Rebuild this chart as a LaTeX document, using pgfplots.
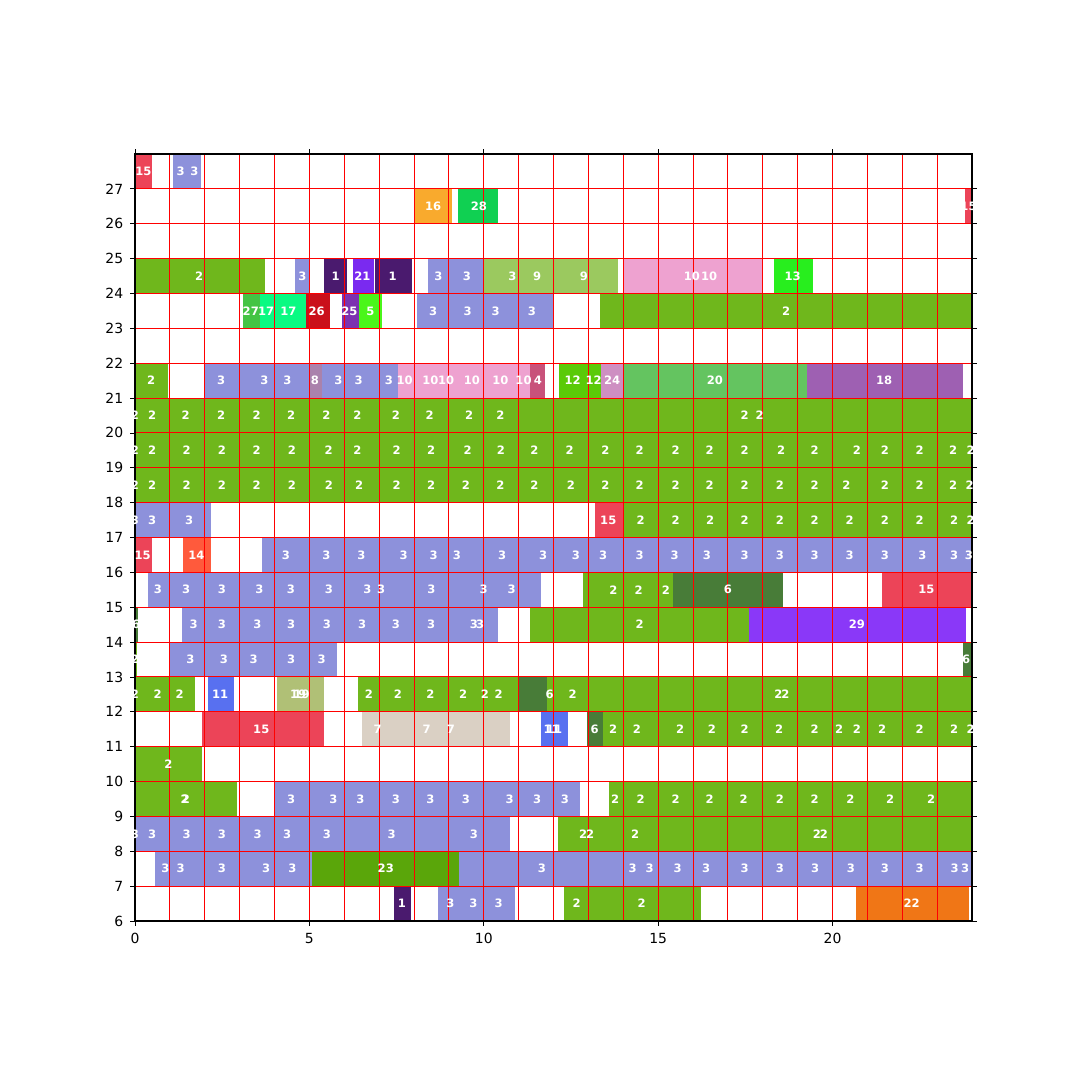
\documentclass[border=0pt]{standalone}
\usepackage{pgfplots}
\pgfplotsset{compat=1.18}
\usepackage{fontspec}
\setmainfont{DejaVu Sans}
\definecolor{red15}{RGB}{236,68,88}
\definecolor{lav}{RGB}{141,145,219}
\definecolor{or16}{RGB}{249,170,45}
\definecolor{gr28}{RGB}{16,208,82}
\definecolor{g2}{RGB}{111,183,28}
\definecolor{dp1}{RGB}{74,26,110}
\definecolor{p21}{RGB}{122,42,240}
\definecolor{lg9}{RGB}{155,201,95}
\definecolor{pink10}{RGB}{238,162,208}
\definecolor{bg13}{RGB}{40,238,30}
\definecolor{g27}{RGB}{68,196,68}
\definecolor{m17}{RGB}{10,250,130}
\definecolor{r26}{RGB}{202,16,26}
\definecolor{p25}{RGB}{124,50,176}
\definecolor{g5}{RGB}{74,246,26}
\definecolor{mv8}{RGB}{170,130,172}
\definecolor{r4}{RGB}{200,82,122}
\definecolor{g12}{RGB}{90,202,8}
\definecolor{pk24}{RGB}{206,143,194}
\definecolor{g20}{RGB}{100,196,96}
\definecolor{p18}{RGB}{158,96,178}
\definecolor{o14}{RGB}{255,90,60}
\definecolor{dg6}{RGB}{72,124,56}
\definecolor{p29}{RGB}{138,56,248}
\definecolor{b11}{RGB}{88,112,240}
\definecolor{k19}{RGB}{176,192,118}
\definecolor{be7}{RGB}{218,208,196}
\definecolor{g23}{RGB}{90,166,10}
\definecolor{o22}{RGB}{240,118,22}
\newcommand\bx[5]{%
  \addplot[fill=#5,draw=none,forget plot] coordinates {(#1,#3) (#2,#3) (#2,#4) (#1,#4)};}
\begin{document}
\begin{tikzpicture}
\path[use as bounding box] (0,0) rectangle (540bp,540bp);
\begin{axis}[
  at={(67.5bp,79.5bp)}, anchor=south west,
  width=418.5bp, height=383.5bp, scale only axis,
  xmin=0, xmax=24, ymin=6, ymax=28,
  xtick={0,5,10,15,20}, minor xtick={0,...,24},
  ytick={6,...,27}, minor ytick={6,...,28},
  grid=both,
  major grid style={red, line width=0.5bp},
  minor grid style={red, line width=0.5bp},
  minor tick length=0pt, major tick length=2.4bp,
  tick align=outside, tick style={black, line width=0.4bp},
  axis line style={black, line width=0.55bp},
  ticklabel style={font=\fontsize{7}{8}\selectfont},
  /pgf/number format/assume math mode=true,
  axis on top,
]
% row 27
\bx{0}{0.48}{27}{28}{red15}
\bx{1.08}{1.90}{27}{28}{lav}
% row 26
\bx{8.0}{9.1}{26}{27}{or16}
\bx{9.27}{10.42}{26}{27}{gr28}
\bx{23.79}{24}{26}{27}{red15}
% row 24
\bx{0}{3.72}{24}{25}{g2}
\bx{4.6}{4.99}{24}{25}{lav}
\bx{5.41}{6.09}{24}{25}{dp1}
\bx{6.24}{6.85}{24}{25}{p21}
\bx{6.89}{7.93}{24}{25}{dp1}
\bx{8.39}{10.0}{24}{25}{lav}
\bx{10.0}{13.86}{24}{25}{lg9}
\bx{13.99}{18.0}{24}{25}{pink10}
\bx{18.31}{19.43}{24}{25}{bg13}
% row 23
\bx{3.09}{3.57}{23}{24}{g27}
\bx{3.57}{4.9}{23}{24}{m17}
\bx{4.9}{5.58}{23}{24}{r26}
\bx{5.94}{6.41}{23}{24}{p25}
\bx{6.41}{7.09}{23}{24}{g5}
\bx{8.08}{12.02}{23}{24}{lav}
\bx{13.32}{24}{23}{24}{g2}
% row 21
\bx{0}{0.96}{21}{22}{g2}
\bx{2.01}{7.53}{21}{22}{lav}
\bx{4.99}{5.36}{21}{22}{mv8}
\bx{7.53}{11.34}{21}{22}{pink10}
\bx{11.34}{11.76}{21}{22}{r4}
\bx{12.15}{13.35}{21}{22}{g12}
\bx{13.35}{14.0}{21}{22}{pk24}
\bx{14.0}{19.26}{21}{22}{g20}
\bx{19.26}{23.74}{21}{22}{p18}
% rows 20,19,18
\bx{0}{24}{20}{21}{g2}
\bx{0}{24}{19}{20}{g2}
\bx{0}{24}{18}{19}{g2}
% row 17
\bx{0}{2.19}{17}{18}{lav}
\bx{13.2}{14.0}{17}{18}{red15}
\bx{14.0}{24}{17}{18}{g2}
% row 16
\bx{0}{0.48}{16}{17}{red15}
\bx{1.38}{2.19}{16}{17}{o14}
\bx{3.63}{24}{16}{17}{lav}
% row 15
\bx{0.36}{11.64}{15}{16}{lav}
\bx{12.86}{15.44}{15}{16}{g2}
\bx{15.44}{18.58}{15}{16}{dg6}
\bx{21.41}{24}{15}{16}{red15}
% row 14
\bx{0}{0.09}{14}{15}{dg6}
\bx{1.36}{10.42}{14}{15}{lav}
\bx{11.34}{17.6}{14}{15}{g2}
\bx{17.6}{23.83}{14}{15}{p29}
% row 13
\bx{0}{0.06}{13}{14}{g2}
\bx{1.0}{5.78}{13}{14}{lav}
\bx{23.74}{24}{13}{14}{dg6}
% row 12
\bx{0}{1.72}{12}{13}{g2}
\bx{2.09}{2.83}{12}{13}{b11}
\bx{4.06}{5.43}{12}{13}{k19}
\bx{6.38}{11.02}{12}{13}{g2}
\bx{11.02}{11.81}{12}{13}{dg6}
\bx{11.81}{24}{12}{13}{g2}
% row 11
\bx{1.92}{5.41}{11}{12}{red15}
\bx{6.52}{10.74}{11}{12}{be7}
\bx{11.64}{12.41}{11}{12}{b11}
\bx{12.95}{13.42}{11}{12}{dg6}
\bx{13.42}{24}{11}{12}{g2}
% row 10
\bx{0}{1.92}{10}{11}{g2}
% row 9
\bx{0}{2.92}{9}{10}{g2}
\bx{4.02}{12.77}{9}{10}{lav}
\bx{13.59}{24}{9}{10}{g2}
% row 8
\bx{0}{10.74}{8}{9}{lav}
\bx{12.12}{24}{8}{9}{g2}
% row 7
\bx{0.56}{24}{7}{8}{lav}
\bx{5.07}{9.29}{7}{8}{g23}
% row 6
\bx{7.42}{7.91}{6}{7}{dp1}
\bx{8.69}{10.9}{6}{7}{lav}
\bx{12.29}{16.23}{6}{7}{g2}
\bx{20.68}{23.91}{6}{7}{o22}
% labels
\addplot[draw=none, mark=none, forget plot,
  nodes near coords, point meta=explicit symbolic,
  nodes near coords style={font=\fontsize{5.8}{7}\selectfont\bfseries, text=white, anchor=center, inner sep=0pt}]
table[meta=l] {
x y l
0.24 27.5 15
1.31 27.5 3
1.70 27.5 3
8.55 26.5 16
9.86 26.5 28
23.9 26.5 15
1.84 24.5 2
4.8 24.5 3
5.75 24.5 1
6.52 24.5 21
7.39 24.5 1
8.70 24.5 3
9.52 24.5 3
10.82 24.5 3
11.53 24.5 9
12.87 24.5 9
15.97 24.5 10
16.46 24.5 10
18.86 24.5 13
3.32 23.5 27
3.76 23.5 17
4.40 23.5 17
5.21 23.5 26
6.15 23.5 25
6.75 23.5 5
8.55 23.5 3
9.54 23.5 3
10.34 23.5 3
11.38 23.5 3
18.67 23.5 2
0.46 21.5 2
2.47 21.5 3
3.71 21.5 3
4.37 21.5 3
5.16 21.5 8
5.83 21.5 3
6.41 21.5 3
7.28 21.5 3
7.73 21.5 10
8.47 21.5 10
8.92 21.5 10
9.66 21.5 10
10.48 21.5 10
11.14 21.5 10
11.55 21.5 4
12.55 21.5 12
13.15 21.5 12
13.68 21.5 24
16.63 21.5 20
21.48 21.5 18
0.0 20.5 2
0.49 20.5 2
1.45 20.5 2
2.47 20.5 2
3.49 20.5 2
4.48 20.5 2
5.49 20.5 2
6.38 20.5 2
7.48 20.5 2
8.45 20.5 2
9.58 20.5 2
10.48 20.5 2
17.48 20.5 2
17.91 20.5 2
0.0 19.5 2
0.49 19.5 2
1.48 19.5 2
2.49 19.5 2
3.49 19.5 2
4.5 19.5 2
5.55 19.5 2
6.38 19.5 2
7.5 19.5 2
8.49 19.5 2
9.54 19.5 2
10.49 19.5 2
11.45 19.5 2
12.46 19.5 2
13.49 19.5 2
14.47 19.5 2
15.5 19.5 2
16.48 19.5 2
17.48 19.5 2
18.53 19.5 2
19.49 19.5 2
20.7 19.5 2
21.5 19.5 2
22.5 19.5 2
23.46 19.5 2
23.96 19.5 2
0.0 18.5 2
0.49 18.5 2
1.48 18.5 2
2.49 18.5 2
3.49 18.5 2
4.5 18.5 2
5.56 18.5 2
6.43 18.5 2
7.5 18.5 2
8.49 18.5 2
9.49 18.5 2
10.48 18.5 2
11.45 18.5 2
12.5 18.5 2
13.49 18.5 2
14.47 18.5 2
15.5 18.5 2
16.48 18.5 2
17.48 18.5 2
18.49 18.5 2
19.49 18.5 2
20.4 18.5 2
21.5 18.5 2
22.5 18.5 2
23.46 18.5 2
23.93 18.5 2
0.0 17.5 3
0.49 17.5 3
1.55 17.5 3
13.57 17.5 15
14.5 17.5 2
15.5 17.5 2
16.49 17.5 2
17.48 17.5 2
18.49 17.5 2
19.49 17.5 2
20.49 17.5 2
21.5 17.5 2
22.5 17.5 2
23.49 17.5 2
23.96 17.5 2
0.22 16.5 15
1.76 16.5 14
4.33 16.5 3
5.49 16.5 3
6.49 16.5 3
7.7 16.5 3
8.56 16.5 3
9.23 16.5 3
10.53 16.5 3
11.7 16.5 3
12.64 16.5 3
13.42 16.5 3
14.47 16.5 3
15.47 16.5 3
16.4 16.5 3
17.48 16.5 3
18.49 16.5 3
19.49 16.5 3
20.49 16.5 3
21.5 16.5 3
22.58 16.5 3
23.49 16.5 3
23.91 16.5 3
0.66 15.5 3
1.47 15.5 3
2.49 15.5 3
3.57 15.5 3
4.47 15.5 3
5.56 15.5 3
6.66 15.5 3
7.06 15.5 3
8.5 15.5 3
10.0 15.5 3
10.8 15.5 3
13.72 15.5 2
14.44 15.5 2
15.22 15.5 2
17.0 15.5 6
22.69 15.5 15
0.03 14.5 6
1.68 14.5 3
2.49 14.5 3
3.51 14.5 3
4.48 14.5 3
5.5 14.5 3
6.51 14.5 3
7.48 14.5 3
8.49 14.5 3
9.72 14.5 3
9.9 14.5 3
14.47 14.5 2
20.7 14.5 29
0.0 13.5 2
1.59 13.5 3
2.55 13.5 3
3.4 13.5 3
4.48 13.5 3
5.35 13.5 3
23.83 13.5 6
0.0 12.5 2
0.65 12.5 2
1.28 12.5 2
2.44 12.5 11
4.68 12.5 19
4.78 12.5 19
6.71 12.5 2
7.54 12.5 2
8.47 12.5 2
9.41 12.5 2
10.03 12.5 2
10.43 12.5 2
11.89 12.5 6
12.55 12.5 2
18.45 12.5 2
18.65 12.5 2
3.62 11.5 15
6.96 11.5 7
8.36 11.5 7
9.06 11.5 7
11.95 11.5 11
12.02 11.5 11
13.18 11.5 6
13.71 11.5 2
14.39 11.5 2
15.63 11.5 2
16.54 11.5 2
17.48 11.5 2
18.47 11.5 2
19.49 11.5 2
20.19 11.5 2
20.7 11.5 2
21.42 11.5 2
22.5 11.5 2
23.49 11.5 2
23.96 11.5 2
0.96 10.5 2
1.42 9.5 2
1.46 9.5 2
4.48 9.5 3
5.69 9.5 3
6.46 9.5 3
7.48 9.5 3
8.47 9.5 3
9.49 9.5 3
10.74 9.5 3
11.53 9.5 3
12.33 9.5 3
13.77 9.5 2
14.5 9.5 2
15.5 9.5 2
16.48 9.5 2
17.45 9.5 2
18.49 9.5 2
19.49 9.5 2
20.51 9.5 2
21.65 9.5 2
22.83 9.5 2
0.0 8.5 3
0.49 8.5 3
1.48 8.5 3
2.49 8.5 3
3.52 8.5 3
4.36 8.5 3
5.5 8.5 3
7.36 8.5 3
9.72 8.5 3
12.85 8.5 2
13.05 8.5 2
14.34 8.5 2
19.55 8.5 2
19.75 8.5 2
0.87 7.5 3
1.31 7.5 3
2.49 7.5 3
3.76 7.5 3
4.51 7.5 3
7.19 7.5 23
11.67 7.5 3
14.27 7.5 3
14.76 7.5 3
15.56 7.5 3
16.38 7.5 3
17.48 7.5 3
18.49 7.5 3
19.5 7.5 3
20.53 7.5 3
21.5 7.5 3
22.5 7.5 3
23.5 7.5 3
23.8 7.5 3
7.65 6.5 1
9.04 6.5 3
9.7 6.5 3
10.43 6.5 3
12.66 6.5 2
14.53 6.5 2
22.27 6.5 22
};
\end{axis}
\end{tikzpicture}
\end{document}
